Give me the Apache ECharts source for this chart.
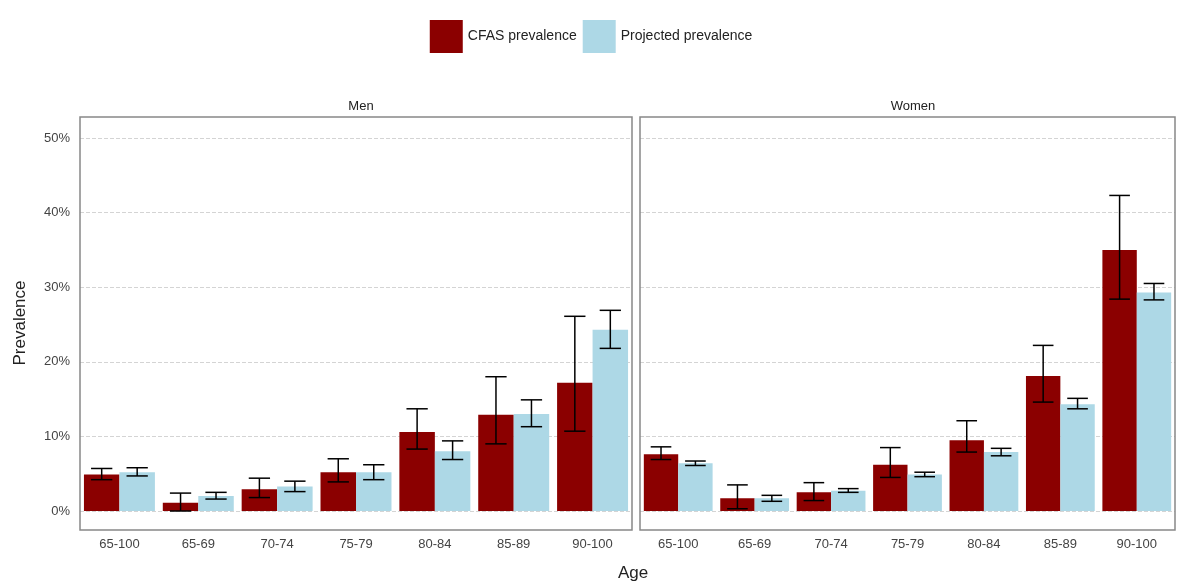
<!DOCTYPE html>
<html>
<head>
<meta charset="utf-8">
<script src="https://cdn.jsdelivr.net/npm/echarts@6/dist/echarts.min.js"></script>
<style>html,body{margin:0;padding:0;background:#fff}#chart{width:1182px;height:582px}</style>
</head>
<body>
<div id="chart"></div>
<script>
const ages = ['65-100', '65-69', '70-74', '75-79', '80-84', '85-89', '90-100'];

const menCfas = [4.9, 1.1, 2.9, 5.2, 10.6, 12.9, 17.2];
const menCfasLow = [4.2, 0.0, 1.8, 3.9, 8.3, 9.0, 10.7];
const menCfasHigh = [5.7, 2.4, 4.4, 7.0, 13.7, 18.0, 26.1];
const menProj = [5.2, 2.0, 3.3, 5.2, 8.0, 13.0, 24.3];
const menProjLow = [4.7, 1.6, 2.6, 4.2, 6.9, 11.3, 21.8];
const menProjHigh = [5.8, 2.5, 4.0, 6.2, 9.4, 14.9, 26.9];

const womenCfas = [7.6, 1.7, 2.5, 6.2, 9.5, 18.1, 35.0];
const womenCfasLow = [6.9, 0.3, 1.4, 4.5, 7.9, 14.6, 28.4];
const womenCfasHigh = [8.6, 3.5, 3.8, 8.5, 12.1, 22.2, 42.3];
const womenProj = [6.4, 1.7, 2.7, 4.9, 7.9, 14.3, 29.3];
const womenProjLow = [6.1, 1.3, 2.5, 4.6, 7.4, 13.7, 28.3];
const womenProjHigh = [6.7, 2.1, 3.0, 5.2, 8.4, 15.1, 30.5];

const red = '#8b0000';
const blue = '#add8e6';
const catGap = 0.1;

function errData(low, high) {
    return low.map((l, i) => [i, l, high[i]]);
}

function errSeries(grid, low, high, side) {
    return {
        type: 'custom',
        xAxisIndex: grid,
        yAxisIndex: grid,
        silent: true,
        z: 5,
        clip: false,
        data: errData(low, high),
        encode: { x: 0, y: [1, 2] },
        renderItem: function (params, api) {
            const i = api.value(0);
            const lo = api.coord([i, api.value(1)]);
            const hi = api.coord([i, api.value(2)]);
            const band = api.size([1, 0])[0];
            const bw = band * (1 - catGap) / 2;
            const cx = lo[0] + side * bw / 2;
            const cap = bw * 0.3;
            const style = { stroke: '#000', lineWidth: 1.5 };
            return {
                type: 'group',
                children: [
                    { type: 'line', shape: { x1: cx, y1: lo[1], x2: cx, y2: hi[1] }, style: style },
                    { type: 'line', shape: { x1: cx - cap, y1: lo[1], x2: cx + cap, y2: lo[1] }, style: style },
                    { type: 'line', shape: { x1: cx - cap, y1: hi[1], x2: cx + cap, y2: hi[1] }, style: style }
                ]
            };
        }
    };
}

function xAxis(grid) {
    return {
        type: 'category',
        gridIndex: grid,
        data: ages,
        axisLine: { show: false },
        axisTick: { show: false },
        axisLabel: { color: '#444', fontSize: 13, margin: 27 }
    };
}

function yAxis(grid) {
    return {
        type: 'value',
        gridIndex: grid,
        min: 0,
        max: 50,
        interval: 10,
        axisLine: { show: false },
        axisTick: { show: false },
        axisLabel: { show: grid === 0, color: '#444', fontSize: 13, margin: 10, formatter: '{value}%' },
        splitLine: { show: true, lineStyle: { color: '#d4d4d4', type: 'dashed' } }
    };
}

const chart = echarts.init(document.getElementById('chart'));
chart.setOption({
    animation: false,
    textStyle: { fontFamily: 'Arial, Liberation Sans, sans-serif' },
    legend: {
        top: 15,
        left: 'center',
        icon: 'rect',
        itemWidth: 33,
        itemHeight: 33,
        itemGap: 6,
        textStyle: { fontSize: 14, color: '#222' },
        data: ['CFAS prevalence', 'Projected prevalence']
    },
    title: [
        { text: 'Men', left: 356, top: 95, textAlign: 'center', textStyle: { fontSize: 13, fontWeight: 'normal', color: '#222' } },
        { text: 'Women', left: 908, top: 95, textAlign: 'center', textStyle: { fontSize: 13, fontWeight: 'normal', color: '#222' } },
        { text: 'Age', left: 628, top: 560, textAlign: 'center', textStyle: { fontSize: 17, fontWeight: 'normal', color: '#222' } }
    ],
    graphic: [
        {
            type: 'text', x: 20, y: 323, rotation: Math.PI / 2,
            style: { text: 'Prevalence', font: '17px Arial, Liberation Sans, sans-serif', fill: '#222', align: 'center', verticalAlign: 'middle' }
        },
        { type: 'rect', z: 100, shape: { x: 80, y: 117, width: 552, height: 413 }, style: { fill: null, stroke: '#888', lineWidth: 1.5 } },
        { type: 'rect', z: 100, shape: { x: 640, y: 117, width: 535, height: 413 }, style: { fill: null, stroke: '#888', lineWidth: 1.5 } }
    ],
    grid: [
        { left: 80, width: 552, top: 138, height: 373 },
        { left: 640, width: 535, top: 138, height: 373 }
    ],
    xAxis: [xAxis(0), xAxis(1)],
    yAxis: [yAxis(0), yAxis(1)],
    series: [
        { name: 'CFAS prevalence', type: 'bar', xAxisIndex: 0, yAxisIndex: 0, data: menCfas, itemStyle: { color: red }, barGap: '0%', barCategoryGap: '10%' },
        { name: 'Projected prevalence', type: 'bar', xAxisIndex: 0, yAxisIndex: 0, data: menProj, itemStyle: { color: blue } },
        { name: 'CFAS prevalence', type: 'bar', xAxisIndex: 1, yAxisIndex: 1, data: womenCfas, itemStyle: { color: red }, barGap: '0%', barCategoryGap: '10%' },
        { name: 'Projected prevalence', type: 'bar', xAxisIndex: 1, yAxisIndex: 1, data: womenProj, itemStyle: { color: blue } },
        errSeries(0, menCfasLow, menCfasHigh, -1),
        errSeries(0, menProjLow, menProjHigh, 1),
        errSeries(1, womenCfasLow, womenCfasHigh, -1),
        errSeries(1, womenProjLow, womenProjHigh, 1)
    ]
});
</script>
</body>
</html>
